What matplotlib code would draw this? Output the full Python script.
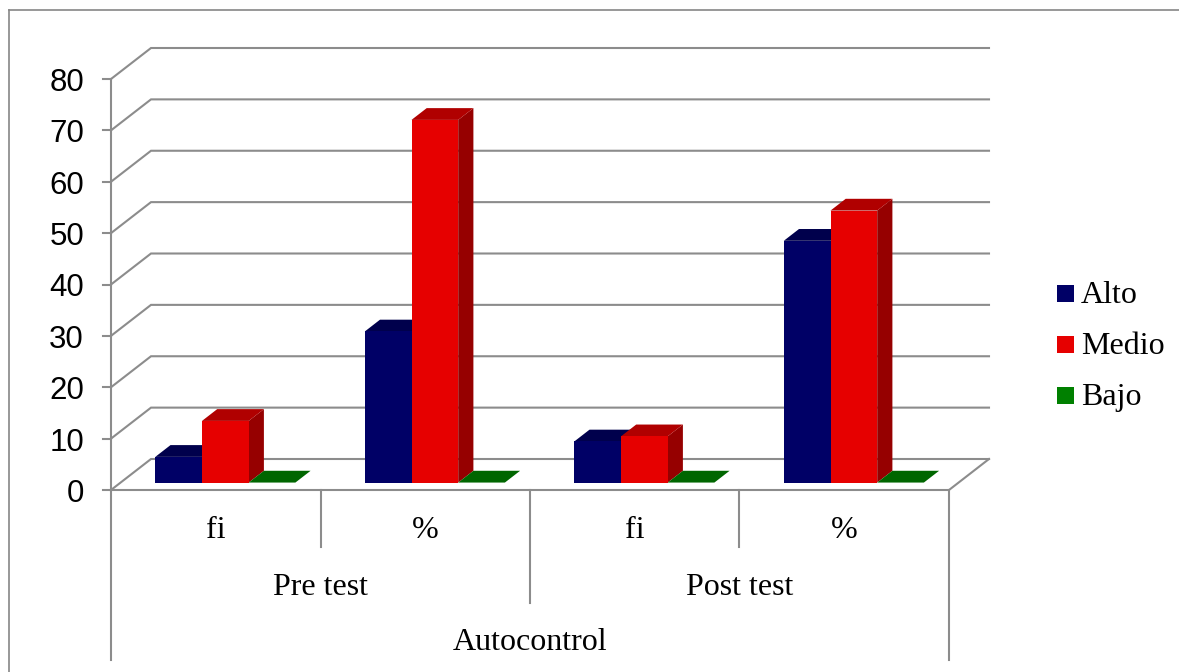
import matplotlib
matplotlib.use("Agg")
import matplotlib.pyplot as plt
from matplotlib.patches import Polygon, Rectangle
from matplotlib.lines import Line2D

# ---------------- data ----------------
groups = ["Pre test", "Post test"]
subcats = ["fi", "%", "fi", "%"]
dimension = "Autocontrol"
series = ["Alto", "Medio", "Bajo"]
alto = [5, 29.41, 8, 47.06]
medio = [12, 70.59, 9, 52.94]
bajo = [0, 0, 0, 0]
yticks = [0, 10, 20, 30, 40, 50, 60, 70, 80]

# ---------------- styling ----------------
front_cols = ["#000066", "#E60000", "#006600"]
top_cols = ["#00004C", "#B00000", "#006600"]
side_cols = ["#000040", "#960000", "#004D00"]
legend_cols = ["#000066", "#E60000", "#008000"]
grid_col = "#8C8C8C"
SANS = "Liberation Sans"
SERIF = "Liberation Serif"
FS_TICK = 22.5
FS_TXT = 23

W, H = 1179, 672
fig = plt.figure(figsize=(W / 100, H / 100), dpi=100)
ax = fig.add_axes([0, 0, 1, 1])
ax.axis("off")

# layout (pixels of the front plane)
XL, XR = 111, 949
Y0, YTOP = 490, 79
ncat = len(subcats)
ymax = yticks[-1]
ppc = (XR - XL) / ncat          # pixels per category
ppv = (Y0 - YTOP) / ymax        # pixels per value unit
ax.set_xlim(-0.5 - XL / ppc, ncat - 0.5 + (W - XR) / ppc)
ax.set_ylim(-(H - Y0) / ppv, Y0 / ppv)

DX = 40 / ppc   # depth offset in data units
DY = 31 / ppv


def proj(x, y, f):
    return (x + f * DX, y + f * DY)


def ypx(p):
    # pixel row -> data y
    return (Y0 - p) / ppv


xa, xb = -0.5, ncat - 0.5
lw = 1.5
# walls / gridlines
for v in yticks:
    pts = [proj(xa, v, 0), proj(xa, v, 1), proj(xb, v, 1)]
    ax.add_line(Line2D([p[0] for p in pts], [p[1] for p in pts], color=grid_col, lw=lw, zorder=1,
                       solid_joinstyle="miter"))
    # tick marks
    ax.add_line(Line2D([xa - 8 / ppc, xa], [v, v], color=grid_col, lw=lw, zorder=1))
    ax.text(xa - 27 / ppc, v - 12 / ppv, str(v), ha="right", va="baseline", fontsize=FS_TICK,
            family=SANS, color="black")
# floor front edge & right diagonal
p2 = proj(xb, 0, 1)
ax.add_line(Line2D([xa, xb, p2[0]], [0, 0, p2[1]], color=grid_col, lw=lw, zorder=1, solid_joinstyle="miter"))
# front vertical axis
ax.add_line(Line2D([xa, xa], [0, ymax], color=grid_col, lw=lw, zorder=1))

# bars
bw = 46.7 / ppc
ff, fb = 0.24, 0.62
vals = [alto, medio, bajo]
z = 2
for i in range(ncat):
    for j in range(len(series)):
        v = vals[j][i]
        x0 = i + (j - 1.5) * bw
        x1 = x0 + bw
        side = [proj(x1, 0, ff), proj(x1, v, ff), proj(x1, v, fb), proj(x1, 0, fb)]
        top = [proj(x0, v, ff), proj(x1, v, ff), proj(x1, v, fb), proj(x0, v, fb)]
        front = [proj(x0, 0, ff), proj(x1, 0, ff), proj(x1, v, ff), proj(x0, v, ff)]
        if v > 0:
            ax.add_patch(Polygon(side, closed=True, facecolor=side_cols[j], edgecolor="none", zorder=z))
        ax.add_patch(Polygon(top, closed=True, facecolor=top_cols[j], edgecolor="none", zorder=z + 0.1))
        if v > 0:
            ax.add_patch(Polygon(front, closed=True, facecolor=front_cols[j], edgecolor="none", zorder=z + 0.2))
        z += 1

# hierarchical category axis
bounds = [i - 0.5 for i in range(ncat + 1)]
ax.add_line(Line2D([xa, xa], [0, ypx(660)], color=grid_col, lw=lw, zorder=1))
ax.add_line(Line2D([xb, xb], [0, ypx(660)], color=grid_col, lw=lw, zorder=1))
for k, b in enumerate(bounds[1:-1], start=1):
    bottom = ypx(603) if k % 2 == 0 else ypx(547)
    ax.add_line(Line2D([b, b], [0, bottom], color=grid_col, lw=lw, zorder=1))
for i, lab in enumerate(subcats):
    ax.text(i, ypx(538.5), lab, ha="center", va="baseline", fontsize=FS_TXT, family=SERIF)
for g, lab in enumerate(groups):
    ax.text(2 * g + 0.5, ypx(595), lab, ha="center", va="baseline", fontsize=FS_TXT, family=SERIF)
ax.text((xa + xb) / 2, ypx(650.5), dimension, ha="center", va="baseline", fontsize=FS_TXT, family=SERIF)

# legend
leg_base = [303, 354, 405]
for s, col, yy in zip(series, legend_cols, leg_base):
    fig.patches.append(Rectangle((1057 / W, (H - yy + 1.5) / H), 17 / W, 17 / H,
                                 transform=fig.transFigure, facecolor=col, edgecolor="none"))
    fig.text(1081 / W, (H - yy) / H, s, ha="left", va="baseline", fontsize=FS_TXT, family=SERIF)

# outer border (top and left)
fig.add_artist(Line2D([9 / W, 1], [(H - 10) / H, (H - 10) / H], transform=fig.transFigure,
                      color="#868686", lw=1.2))
fig.add_artist(Line2D([9 / W, 9 / W], [0, (H - 10) / H], transform=fig.transFigure,
                      color="#868686", lw=1.2))

fig.savefig("out.png", dpi=100, facecolor="white")
